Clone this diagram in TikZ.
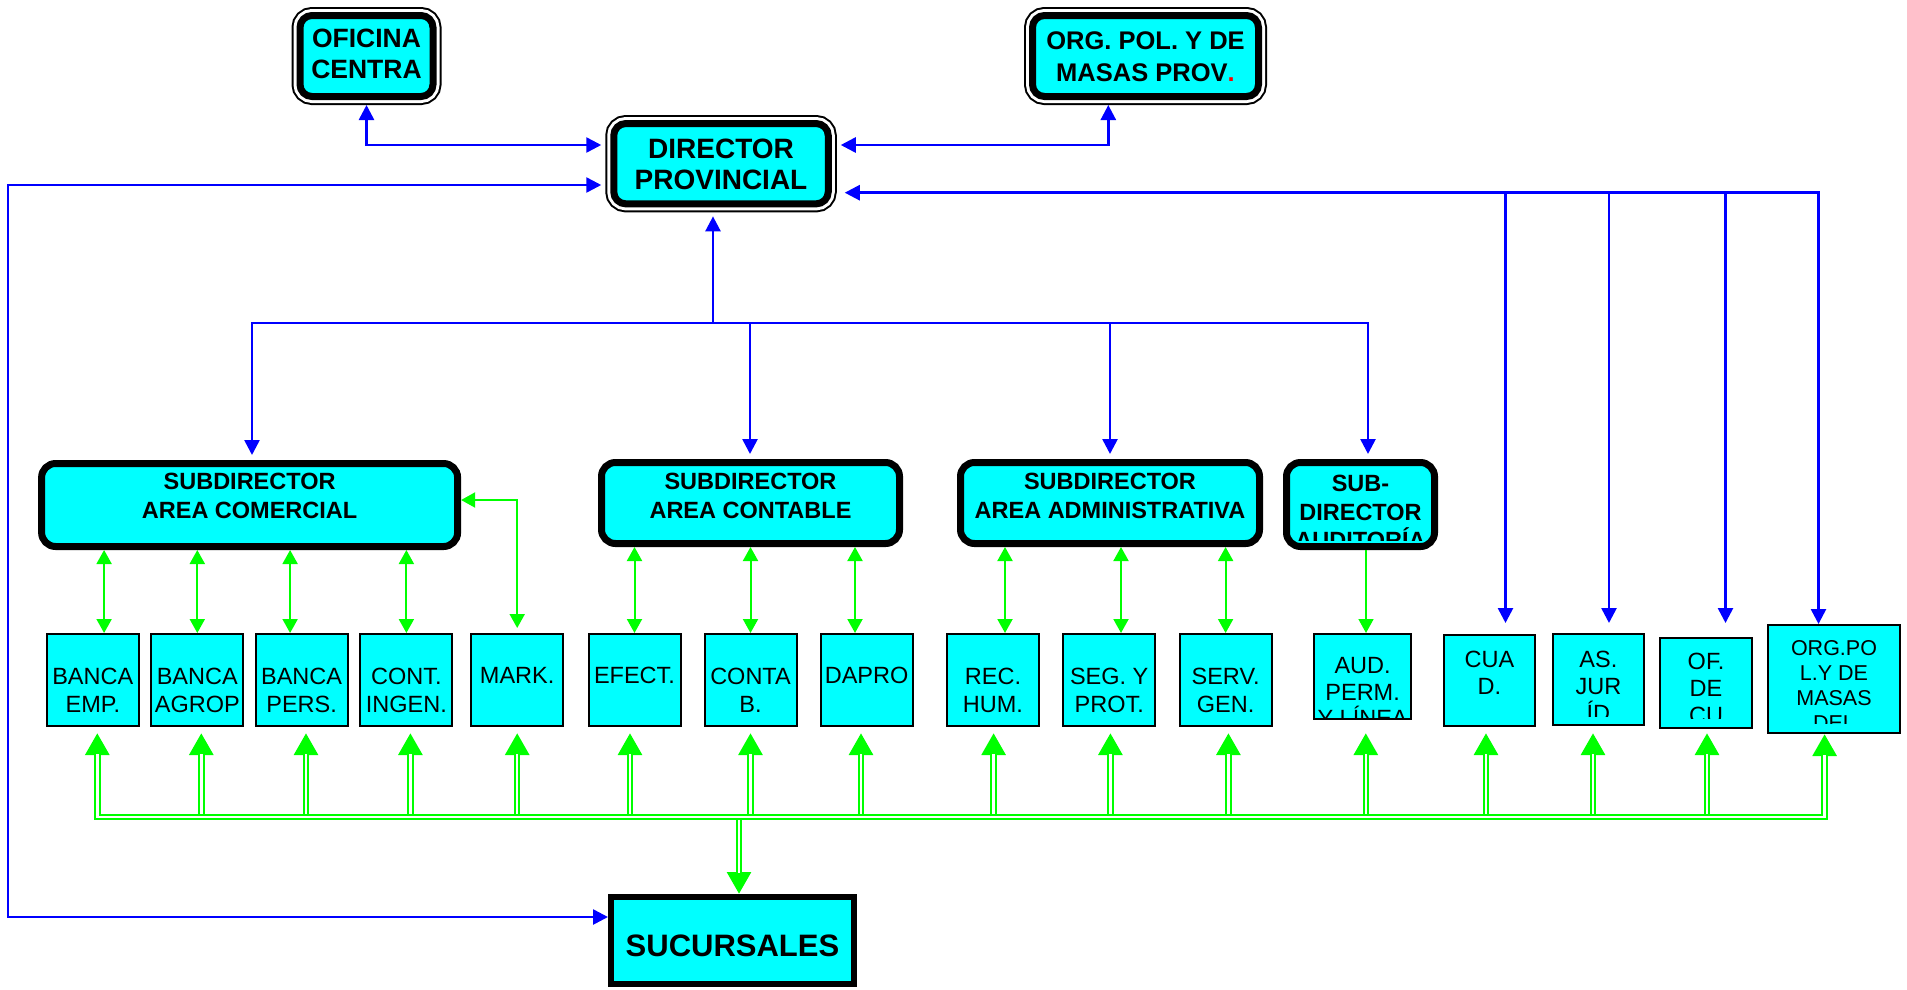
\documentclass[tikz,border=0pt]{standalone}
\usepackage{fontspec}
\setmainfont{Liberation Sans}
\usetikzlibrary{arrows.meta}
\definecolor{boxcyan}{RGB}{0,255,255}
\definecolor{lgreen}{RGB}{0,255,0}
\definecolor{lblue}{RGB}{0,0,255}
\definecolor{dotred}{RGB}{255,0,0}

\begin{document}
\begin{tikzpicture}[x=1pt, y=-1pt,
    topbox/.style={rectangle, rounded corners=12, fill=boxcyan, draw=black, line width=7, outer sep=8.5,
        preaction={draw=black, line width=17}, preaction={draw=white, line width=13}},
    subbox/.style={rectangle, rounded corners=14, fill=boxcyan, draw=black, line width=7},
    unit/.style={rectangle, fill=boxcyan, draw=black, line width=2, minimum width=92, minimum height=92},
    sucbox/.style={rectangle, fill=boxcyan, draw=black, line width=6},
    toptext/.style={anchor=north, align=center, inner sep=0, font=\bfseries\fontsize{26.5}{30.7}\selectfont},
    subtext/.style={anchor=north, align=center, inner sep=0, font=\bfseries\fontsize{23.5}{28.5}\selectfont},
    unittext/.style={anchor=north, align=center, inner sep=0, font=\fontsize{23.5}{28}\selectfont},
    rtext/.style={unittext, font=\fontsize{23.5}{26.7}\selectfont},
    bline/.style={draw=lblue, line width=2.6, >={Triangle[width=15pt,length=15pt]}},
    gline/.style={draw=lgreen, line width=2, >={Triangle[width=15pt,length=14pt]}},
    gwhite/.style={draw=white, line width=2.4, -, shorten <=21pt},
    gdbl/.style={draw=lgreen, line width=6.4, >={Triangle[width=23pt,length=22pt]}, postaction={gwhite}}
]
    \useasboundingbox (0,0) rectangle (1907,989);

    \node[topbox, minimum width=133, minimum height=81] (ofic) at (366.5,56) {};
    \node[topbox, minimum width=214.5, minimum height=80.3] (dir) at (721,163.7) {};
    \node[topbox, minimum width=226, minimum height=81] (org) at (1145.5,56) {};
    \node[toptext] (ofict) at ([yshift=-22]ofic.north) {OFICINA\\CENTRA};
    \node[toptext, font=\bfseries\fontsize{28}{31.7}\selectfont] (dirt) at ([yshift=-23.3]dir.north) {DIRECTOR\\PROVINCIAL};
    \node[toptext, font=\bfseries\fontsize{25.5}{31.7}\selectfont] (orgt) at ([yshift=-24.4]org.north) {ORG. POL. Y DE\\MASAS PROV\textcolor{dotred}{.}};

    \node[subbox, minimum width=416, minimum height=83] (scom) at (249.6,505) {};
    \node[subbox, minimum width=298, minimum height=81] (scon) at (750.5,503) {};
    \node[subbox, minimum width=299, minimum height=81] (sadm) at (1110,503) {};
    \node[subbox, minimum width=148, minimum height=84] (saud) at (1360.5,504.5) {};
    \node[subtext] (scomt) at ([yshift=-13.3]scom.north) {SUBDIRECTOR\\AREA COMERCIAL};
    \node[subtext] (scont) at ([yshift=-14.3]scon.north) {SUBDIRECTOR\\AREA CONTABLE};
    \node[subtext] (sadmt) at ([yshift=-14.3]sadm.north) {SUBDIRECTOR\\AREA ADMINISTRATIVA};
    \begin{scope}
        \clip (saud.north west) rectangle ([yshift=10]saud.south east);
        \node[subtext] (saudt) at ([yshift=-16]saud.north) {SUB-\\DIRECTOR\\AUDITORÍA};
    \end{scope}

    \node[unit] (bemp) at (92.8,680) {};
    \node[unit] (bagr) at (197.3,680) {};
    \node[unit] (bper) at (301.6,680) {};
    \node[unit] (cing) at (406.4,680) {};
    \node[unit] (mark) at (517.2,680) {};
    \node[unit] (efec) at (634.5,680) {};
    \node[unit] (ctb) at (750.5,680) {};
    \node[unit] (dapr) at (866.6,680) {};
    \node[unit] (rhum) at (993,680) {};
    \node[unit] (segp) at (1109.2,680) {};
    \node[unit] (serv) at (1225.6,680) {};
    \node[unit, minimum width=97.6, minimum height=85] (audp) at (1362.6,676.5) {};
    \node[unit, minimum width=91, minimum height=91] (cuad) at (1489.4,680.5) {};
    \node[unit, minimum width=91, minimum height=91] (asju) at (1598.4,679.5) {};
    \node[unit, minimum width=92, minimum height=90] (ofcu) at (1706,683) {};
    \node[unit, minimum width=132, minimum height=108] (orgm) at (1834,679) {};

    \node[unittext] (bempt) at ([yshift=-35]bemp.north) {BANCA\\EMP.};
    \node[unittext] (bagrt) at ([yshift=-35]bagr.north) {BANCA\\AGROP};
    \node[unittext] (bpert) at ([yshift=-35]bper.north) {BANCA\\PERS.};
    \node[unittext] (cingt) at ([yshift=-35]cing.north) {CONT.\\INGEN.};
    \node[unittext] (markt) at ([yshift=-34]mark.north) {MARK.};
    \node[unittext] (efect) at ([yshift=-34]efec.north) {EFECT.};
    \node[unittext] (ctbt) at ([yshift=-35]ctb.north) {CONTA\\B.};
    \node[unittext] (daprt) at ([yshift=-34]dapr.north) {DAPRO};
    \node[unittext] (rhumt) at ([yshift=-35]rhum.north) {REC.\\HUM.};
    \node[unittext] (segpt) at ([yshift=-35]segp.north) {SEG. Y\\PROT.};
    \node[unittext] (servt) at ([yshift=-35]serv.north) {SERV.\\GEN.};
    \node[rtext] (cuadt) at ([yshift=-17]cuad.north) {CUA\\D.};
    \begin{scope}
        \clip (audp.north west) rectangle ([yshift=2]audp.south east);
        \node[rtext] (audpt) at ([yshift=-24]audp.north) {AUD.\\PERM.\\Y LÍNEA};
    \end{scope}
    \begin{scope}
        \clip (asju.north west) rectangle ([yshift=10]asju.south east);
        \node[rtext] (asjut) at ([yshift=-18]asju.north) {AS.\\JUR\\ÍD};
    \end{scope}
    \begin{scope}
        \clip (ofcu.north west) rectangle ([yshift=11]ofcu.south east);
        \node[rtext] (ofcut) at ([yshift=-16]ofcu.north) {OF.\\DE\\CU};
    \end{scope}
    \begin{scope}
        \clip (orgm.north west) rectangle ([yshift=11]orgm.south east);
        \node[unittext, font=\fontsize{21.5}{25}\selectfont] (orgmt) at ([yshift=-16]orgm.north) {ORG.PO\\L.Y DE\\MASAS\\DEL};
    \end{scope}

    \node[sucbox, minimum width=243, minimum height=87] (suc) at (732.5,940.5) {};
    \node[anchor=north, inner sep=0, font=\bfseries\fontsize{31}{36}\selectfont] (suct) at ([yshift=-41]suc.north) {SUCURSALES};

    \coordinate (lft) at (8,550);
    \coordinate (r1) at (1505.5,193);
    \coordinate (r2) at (1609,193);
    \coordinate (r3) at (1725.5,193);
    \coordinate (r4) at (1818.5,193);
    \coordinate (t1) at (252,323);
    \coordinate (t2) at (750,323);
    \coordinate (t3) at (1110,323);
    \coordinate (t4) at (1368,323);
    \coordinate (tc) at (713,323);
    \coordinate (gb) at (739,817);

    \draw[bline, <->, shorten >=4] (ofic.south) |- ([yshift=18.7]dir.west);
    \draw[bline, <->, shorten <=4] ([yshift=-21.3]dir.west) -| (lft) |- ([yshift=23.5]suc.west);
    \draw[bline, <->, shorten >=4] ([xshift=-37.2]org.south) |- ([yshift=18.7]dir.east);
    \draw[bline, <->, shorten <=8] ([yshift=-29]dir.east) -| (r4 |- orgm.north);
    \draw[bline, ->, shorten >=11] (r1) -- (r1 |- cuad.north);
    \draw[bline, ->, shorten >=10] (r2) -- (r2 |- asju.north);
    \draw[bline, ->, shorten >=14] (r3) -- (r3 |- ofcu.north);
    \draw[bline, ->, shorten >=4] (tc) -- (tc |- dir.south);
    \draw[bline, <->, shorten <=5, shorten >=5] (t1 |- scom.north) |- (t4) -- (t4 |- saud.north);
    \draw[bline, ->, shorten >=5] (t2) -- (t2 |- scon.north);
    \draw[bline, ->, shorten >=5] (t3) -- (t3 |- sadm.north);

    \draw[gline, <->] ([xshift=11.3]bemp.north) -- ([xshift=11.3]bemp.north |- scom.south);
    \draw[gline, <->] (bagr.north) -- (bagr.north |- scom.south);
    \draw[gline, <->] ([xshift=-11.5]bper.north) -- ([xshift=-11.5]bper.north |- scom.south);
    \draw[gline, <->] (cing.north) -- (cing.north |- scom.south);
    \draw[gline, <->, shorten <=5] (mark.north) |- ([yshift=5]scom.east);
    \draw[gline, <->] (efec.north) -- (efec.north |- scon.south);
    \draw[gline, <->] (ctb.north) -- (ctb.north |- scon.south);
    \draw[gline, <->] ([xshift=-11.6]dapr.north) -- ([xshift=-11.6]dapr.north |- scon.south);
    \draw[gline, <->] ([xshift=12]rhum.north) -- ([xshift=12]rhum.north |- sadm.south);
    \draw[gline, <->] ([xshift=11.8]segp.north) -- ([xshift=11.8]segp.north |- sadm.south);
    \draw[gline, <->] (serv.north) -- (serv.north |- sadm.south);
    \draw[gline, ->, line width=1.5] ([xshift=5.5]saud.south) -- ([xshift=5.5]saud.south |- audp.north);

    \draw[gdbl, <-] ([xshift=4,yshift=-6]bagr.south) -- ([xshift=4]bagr.south |- gb);
    \draw[gdbl, <-] ([xshift=4.4,yshift=-6]bper.south) -- ([xshift=4.4]bper.south |- gb);
    \draw[gdbl, <-] ([xshift=4,yshift=-6]cing.south) -- ([xshift=4]cing.south |- gb);
    \draw[gdbl, <-] ([yshift=-6]mark.south) -- (mark.south |- gb);
    \draw[gdbl, <-] ([xshift=-4.5,yshift=-6]efec.south) -- ([xshift=-4.5]efec.south |- gb);
    \draw[gdbl, <-] ([yshift=-6]ctb.south) -- (ctb.south |- gb);
    \draw[gdbl, <-] ([xshift=-5.6,yshift=-6]dapr.south) -- ([xshift=-5.6]dapr.south |- gb);
    \draw[gdbl, <-] ([xshift=0.6,yshift=-6]rhum.south) -- ([xshift=0.6]rhum.south |- gb);
    \draw[gdbl, <-] ([xshift=1.2,yshift=-6]segp.south) -- ([xshift=1.2]segp.south |- gb);
    \draw[gdbl, <-] ([xshift=2.8,yshift=-6]serv.south) -- ([xshift=2.8]serv.south |- gb);
    \draw[gdbl, <-] ([xshift=3.2,yshift=-13]audp.south) -- ([xshift=3.2]audp.south |- gb);
    \draw[gdbl, <-] ([xshift=-3.4,yshift=-6]cuad.south) -- ([xshift=-3.4]cuad.south |- gb);
    \draw[gdbl, <-] ([xshift=-5.4,yshift=-7]asju.south) -- ([xshift=-5.4]asju.south |- gb);
    \draw[gdbl, <-] ([xshift=1,yshift=-4]ofcu.south) -- ([xshift=1]ofcu.south |- gb);
    \draw[gdbl, <-] (gb |- suc.north) -- (gb);
    \draw[gdbl, <->, gwhite/.append style={shorten >=21pt}] ([xshift=4.5,yshift=-6]bemp.south) |- (gb) -| ([xshift=-9.4]orgm.south);
\end{tikzpicture}
\end{document}
